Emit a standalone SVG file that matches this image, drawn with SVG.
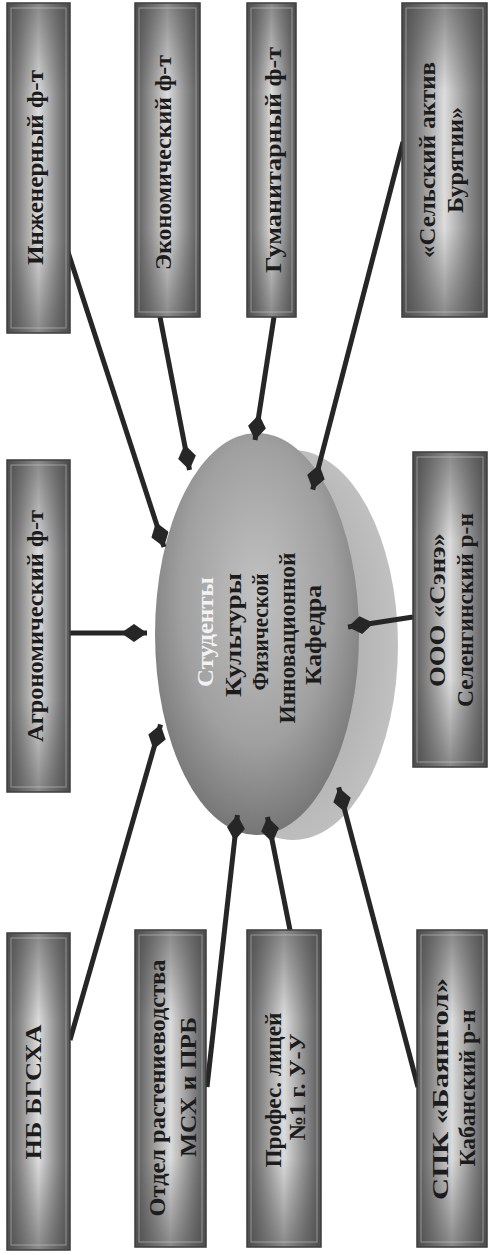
<svg xmlns="http://www.w3.org/2000/svg" width="488" height="1255" viewBox="0 0 488 1255">
<defs>
  <linearGradient id="boxH" x1="0" y1="0" x2="1" y2="0">
    <stop offset="0" stop-color="#555555"/>
    <stop offset="0.22" stop-color="#8e8e8e"/>
    <stop offset="0.5" stop-color="#dcdcdc"/>
    <stop offset="0.78" stop-color="#8e8e8e"/>
    <stop offset="1" stop-color="#555555"/>
  </linearGradient>
  <linearGradient id="boxV" x1="0" y1="0" x2="0" y2="1">
    <stop offset="0" stop-color="#444444" stop-opacity="0.55"/>
    <stop offset="0.28" stop-color="#444444" stop-opacity="0"/>
    <stop offset="0.72" stop-color="#444444" stop-opacity="0"/>
    <stop offset="1" stop-color="#444444" stop-opacity="0.55"/>
  </linearGradient>
  <radialGradient id="ell" cx="0.5" cy="0.4" r="0.62">
    <stop offset="0" stop-color="#c2c2c2"/>
    <stop offset="0.6" stop-color="#a0a0a0"/>
    <stop offset="1" stop-color="#727272"/>
  </radialGradient>
  <radialGradient id="shd" cx="0.45" cy="0.5" r="0.6">
    <stop offset="0" stop-color="#9c9c9c"/>
    <stop offset="1" stop-color="#c4c4c4"/>
  </radialGradient>
  <marker id="dia" markerUnits="userSpaceOnUse" viewBox="0 -9 26 18" refX="26" refY="0" markerWidth="26" markerHeight="18" orient="auto">
    <path d="M0,0 L13,-9 L26,0 L13,9 Z" fill="#262626"/>
  </marker>
  <style>
    .box{fill:url(#boxH);stroke:#3a3a3a;stroke-width:1.5}
    .ov{fill:url(#boxV)}
    .in{fill:none;stroke:#d4d4d4;stroke-width:1;stroke-opacity:0.5}
    .t{font-family:"Liberation Serif","Times New Roman",serif;font-weight:bold;font-size:23px;fill:#1c1c1c;text-anchor:middle;dominant-baseline:central}
    .w{fill:#f2f2f2}
    .c{stroke:#262626;stroke-width:5;fill:none;marker-end:url(#dia)}
  </style>
</defs>
<rect width="488" height="1255" fill="#ffffff"/>

<g id="center">
  <ellipse cx="293" cy="645" rx="105" ry="195" fill="url(#shd)"/>
  <ellipse cx="257" cy="634" rx="102" ry="201" fill="url(#ell)"/>
  <text class="t w" textLength="110" lengthAdjust="spacingAndGlyphs" transform="translate(205,632) rotate(-90)">Студенты</text>
  <text class="t" textLength="124" lengthAdjust="spacingAndGlyphs" transform="translate(233,635) rotate(-90)">Культуры</text>
  <text class="t" textLength="117" lengthAdjust="spacingAndGlyphs" transform="translate(260,632) rotate(-90)">Физической</text>
  <text class="t" textLength="171" lengthAdjust="spacingAndGlyphs" transform="translate(287,638) rotate(-90)">Инновационной</text>
  <text class="t" textLength="100" lengthAdjust="spacingAndGlyphs" transform="translate(313,635) rotate(-90)">Кафедра</text>
</g>

<g id="connectors">
  <line class="c" x1="68" y1="252" x2="164" y2="547"/>
  <line class="c" x1="160" y1="317" x2="189.5" y2="470"/>
  <line class="c" x1="274" y1="317" x2="255" y2="440"/>
  <line class="c" x1="403" y1="142" x2="312.7" y2="489.6"/>
  <line class="c" x1="70" y1="633" x2="147" y2="633"/>
  <line class="c" x1="413" y1="617" x2="348" y2="627"/>
  <line class="c" x1="70" y1="1040" x2="160.6" y2="724.5"/>
  <line class="c" x1="207" y1="1087" x2="237.4" y2="815"/>
  <line class="c" x1="290" y1="930" x2="267.5" y2="817"/>
  <line class="c" x1="418" y1="1087" x2="338.7" y2="787.4"/>
</g>

<g id="eng">
  <rect class="box" x="7" y="3" width="63" height="330"/>
  <rect class="ov" x="7" y="3" width="63" height="330"/>
  <rect class="in" x="11" y="8" width="55" height="320"/>
  <text class="t" textLength="195" lengthAdjust="spacingAndGlyphs" transform="translate(35,167.5) rotate(-90)">Инженерный ф-т</text>
</g>
<g id="econ">
  <rect class="box" x="135" y="3" width="65" height="314"/>
  <rect class="ov" x="135" y="3" width="65" height="314"/>
  <rect class="in" x="139" y="8" width="57" height="304"/>
  <text class="t" textLength="215" lengthAdjust="spacingAndGlyphs" transform="translate(163,162.5) rotate(-90)">Экономический ф-т</text>
</g>
<g id="hum">
  <rect class="box" x="247" y="3" width="49" height="314"/>
  <rect class="ov" x="247" y="3" width="49" height="314"/>
  <rect class="in" x="251" y="8" width="41" height="304"/>
  <text class="t" textLength="226" lengthAdjust="spacingAndGlyphs" transform="translate(273,160) rotate(-90)">Гуманитарный ф-т</text>
</g>
<g id="aktiv">
  <rect class="box" x="402" y="3" width="85" height="314"/>
  <rect class="ov" x="402" y="3" width="85" height="314"/>
  <rect class="in" x="406" y="8" width="77" height="304"/>
  <text class="t" textLength="196" lengthAdjust="spacingAndGlyphs" transform="translate(427,160) rotate(-90)">«Сельский актив</text>
  <text class="t" textLength="106" lengthAdjust="spacingAndGlyphs" transform="translate(455,160) rotate(-90)">Бурятии»</text>
</g>
<g id="agro">
  <rect class="box" x="7" y="460" width="63" height="332"/>
  <rect class="ov" x="7" y="460" width="63" height="332"/>
  <rect class="in" x="11" y="465" width="55" height="322"/>
  <text class="t" textLength="232" lengthAdjust="spacingAndGlyphs" transform="translate(35,626) rotate(-90)">Агрономический ф-т</text>
</g>
<g id="sene">
  <rect class="box" x="413" y="452" width="74" height="315"/>
  <rect class="ov" x="413" y="452" width="74" height="315"/>
  <rect class="in" x="417" y="457" width="66" height="305"/>
  <text class="t" textLength="154" lengthAdjust="spacingAndGlyphs" transform="translate(437,610) rotate(-90)">ООО «Сэнэ»</text>
  <text class="t" textLength="194" lengthAdjust="spacingAndGlyphs" transform="translate(465,610) rotate(-90)">Селенгинский р-н</text>
</g>
<g id="nb">
  <rect class="box" x="7" y="933" width="63" height="317"/>
  <rect class="ov" x="7" y="933" width="63" height="317"/>
  <rect class="in" x="11" y="938" width="55" height="307"/>
  <text class="t" textLength="135" lengthAdjust="spacingAndGlyphs" transform="translate(33,1092) rotate(-90)">НБ БГСХА</text>
</g>
<g id="otdel">
  <rect class="box" x="135" y="930" width="71" height="317"/>
  <rect class="ov" x="135" y="930" width="71" height="317"/>
  <rect class="in" x="139" y="935" width="63" height="307"/>
  <text class="t" textLength="257" lengthAdjust="spacingAndGlyphs" transform="translate(157,1088) rotate(-90)">Отдел растениеводства</text>
  <text class="t" textLength="140" lengthAdjust="spacingAndGlyphs" transform="translate(188,1087) rotate(-90)">МСХ и ПРБ</text>
</g>
<g id="licey">
  <rect class="box" x="247" y="930" width="74" height="317"/>
  <rect class="ov" x="247" y="930" width="74" height="317"/>
  <rect class="in" x="251" y="935" width="66" height="307"/>
  <text class="t" textLength="155" lengthAdjust="spacingAndGlyphs" transform="translate(273,1090) rotate(-90)">Профес. лицей</text>
  <text class="t" textLength="107" lengthAdjust="spacingAndGlyphs" transform="translate(297,1087) rotate(-90)">№1 г. У-У</text>
</g>
<g id="bayangol">
  <rect class="box" x="417" y="930" width="70" height="317"/>
  <rect class="ov" x="417" y="930" width="70" height="317"/>
  <rect class="in" x="421" y="935" width="62" height="307"/>
  <text class="t" textLength="222" lengthAdjust="spacingAndGlyphs" transform="translate(440,1089) rotate(-90)">СПК «Баянгол»</text>
  <text class="t" textLength="157" lengthAdjust="spacingAndGlyphs" transform="translate(467,1088) rotate(-90)">Кабанский р-н</text>
</g>
</svg>
